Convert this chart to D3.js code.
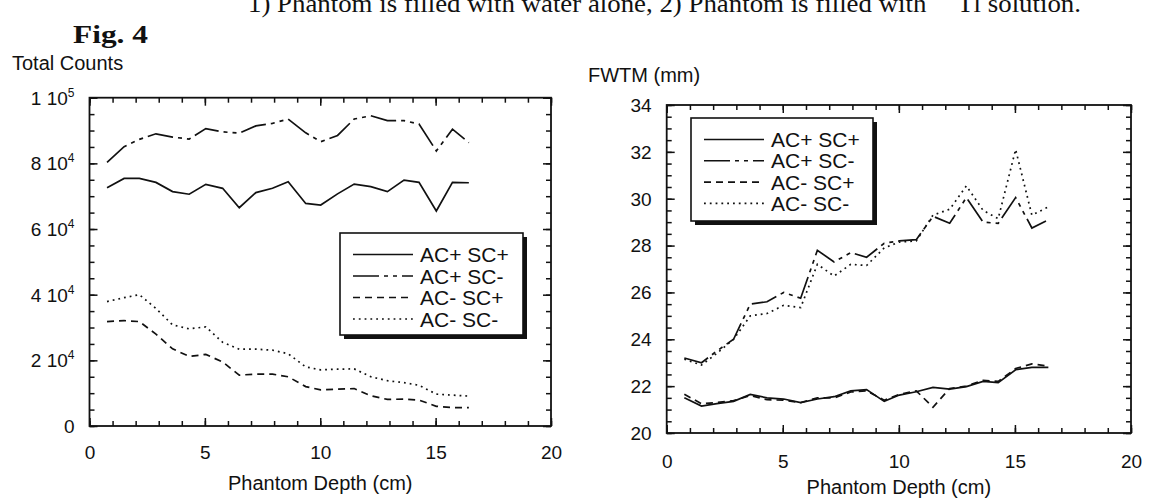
<!DOCTYPE html>
<html>
<head>
<meta charset="utf-8">
<script src="https://cdn.jsdelivr.net/npm/d3@7"></script>
<style>
  body { margin: 0; background: #fff; }
  svg { display: block; }
  text { font-family: "Liberation Sans", Arial, Helvetica, sans-serif; fill: #111; }
  .serif { font-family: "Liberation Serif", "Times New Roman", serif; }
</style>
</head>
<body>
<div id="chart-area"></div>
<script>
// depth of each slice (cm), shared by every series
const depth = [0.76, 1.5, 2.16, 2.88, 3.6, 4.32, 5.04, 5.77, 6.49, 7.21, 7.93, 8.61,
               9.37, 10.02, 10.75, 11.47, 12.19, 12.91, 13.63, 14.28, 15.03, 15.73, 16.44];

const seriesNames = ["AC+ SC+", "AC+ SC-", "AC- SC+", "AC- SC-"];

// total counts
const countsAcpScp = [72600, 75400, 75400, 74200, 71400, 70600, 73600, 72400, 66500, 71100, 72400, 74400,
                      67800, 67300, 70700, 73700, 72900, 71400, 74900, 74200, 65500, 74200, 74100];
const countsAcpScm = [80300, 85100, 87300, 89000, 88000, 87400, 90600, 89600, 89200, 91400, 92200, 93500,
                      89300, 86600, 88500, 93500, 94500, 93000, 93000, 92000, 83800, 90400, 86300];
const countsAcmScp = [31800, 32100, 31800, 28000, 23500, 21200, 21800, 19500, 15500, 15800, 15800, 15000,
                      12000, 11000, 11200, 11400, 9200, 8100, 8200, 7900, 6000, 5600, 5600];
const countsAcmScm = [37900, 39100, 40000, 35800, 30800, 29600, 30200, 25500, 23400, 23400, 23100, 22000,
                      18000, 17100, 17300, 17400, 15000, 13800, 13200, 12400, 9700, 9400, 9100];

// FWTM (mm)
const fwtmAcpScp = [21.5, 21.15, 21.25, 21.35, 21.65, 21.5, 21.45, 21.3, 21.45, 21.55, 21.8, 21.85,
                    21.35, 21.62, 21.76, 21.95, 21.87, 21.98, 22.2, 22.15, 22.7, 22.8, 22.8];
const fwtmAcpScm = [23.2, 23.0, 23.5, 24.0, 25.5, 25.6, 26.0, 25.75, 27.8, 27.3, 27.7, 27.5,
                    28.1, 28.2, 28.25, 29.25, 28.95, 30.05, 29.0, 28.95, 30.05, 28.75, 29.1];
const fwtmAcmScp = [21.65, 21.25, 21.3, 21.38, 21.6, 21.42, 21.4, 21.3, 21.5, 21.5, 21.75, 21.8,
                    21.4, 21.65, 21.8, 21.1, 21.9, 22.0, 22.25, 22.2, 22.75, 22.95, 22.85];
const fwtmAcmScm = [23.15, 22.9, 23.4, 24.0, 25.0, 25.1, 25.45, 25.35, 27.2, 26.7, 27.2, 27.15,
                    27.9, 28.15, 28.2, 29.3, 29.55, 30.55, 29.5, 29.15, 32.1, 29.3, 29.65];

// ticks
const depthTicks = [0, 5, 10, 15, 20];
const countsTicks = [0, 20000, 40000, 60000, 80000, 100000];
const countsTickLabels = ["0", "2 10^4", "4 10^4", "6 10^4", "8 10^4", "1 10^5"];
const fwtmTicks = [20, 22, 24, 26, 28, 30, 32, 34];
const fwtmTickLabels = ["20", "22", "24", "26", "28", "30", "32", "34"];

const dashes = [null, "26,5,4,5,4,5", "7,5", "1.8,4"];

const w = 1151;
const h = 499;

const svg = d3.select("#chart-area")
    .append("svg")
    .attr("width", w)
    .attr("height", h);

// heading (top line is cut off by the page edge in the scan)
svg.append("text")
    .attr("class", "serif")
    .attr("x", 248)
    .attr("y", 12)
    .attr("textLength", 833)
    .attr("lengthAdjust", "spacingAndGlyphs")
    .style("font-size", "25px")
    .html('1) Phantom is filled with water alone, 2) Phantom is filled with <tspan dy="-14" font-size="15">201</tspan><tspan dy="14">Tl solution.</tspan>');

svg.append("text")
    .attr("class", "serif")
    .attr("x", 73)
    .attr("y", 43)
    .attr("textLength", 75)
    .attr("lengthAdjust", "spacingAndGlyphs")
    .style("font-size", "25px")
    .style("font-weight", "bold")
    .text("Fig. 4");

const renderPanel = (cfg) => {
    const xScale = d3.scaleLinear().domain([0, 20]).range(cfg.xRange);
    const yScale = d3.scaleLinear().domain(cfg.yDomain).range(cfg.yRange);

    const left = cfg.xRange[0], right = cfg.xRange[1];
    const top = cfg.yRange[1], bottom = cfg.yRange[0];

    const g = svg.append("g");

    const minorX = d3.range(0, 21, 1);
    const minorY = d3.range(cfg.yDomain[0], cfg.yDomain[1] + cfg.yMinor / 2, cfg.yMinor);

    const axes = [
        ["translate(0," + bottom + ")", d3.axisBottom(xScale).tickValues(minorX).tickSize(-5).tickFormat("")],
        ["translate(0," + bottom + ")", d3.axisBottom(xScale).tickValues(depthTicks).tickSize(-8)
            .tickPadding(cfg.xPad).tickFormat(d3.format("d"))],
        ["translate(0," + top + ")", d3.axisTop(xScale).tickValues(minorX).tickSize(-5).tickFormat("")],
        ["translate(0," + top + ")", d3.axisTop(xScale).tickValues(depthTicks).tickSize(-8).tickFormat("")],
        ["translate(" + left + ",0)", d3.axisLeft(yScale).tickValues(minorY).tickSize(-5).tickFormat("")],
        ["translate(" + left + ",0)", d3.axisLeft(yScale).tickValues(cfg.yTicks).tickSize(-8).tickFormat("")],
        ["translate(" + right + ",0)", d3.axisRight(yScale).tickValues(minorY).tickSize(-5).tickFormat("")],
        ["translate(" + right + ",0)", d3.axisRight(yScale).tickValues(cfg.yTicks).tickSize(-8).tickFormat("")]
    ];

    axes.forEach(([tr, axis]) => {
        const a = g.append("g")
            .attr("transform", tr)
            .call(axis);
        a.select(".domain").remove();
        a.selectAll("line").attr("stroke", "#111").attr("stroke-width", 1.5);
        a.selectAll("text").style("font-size", "19px");
    });

    // y tick labels, with superscript exponents
    g.selectAll(".ylabel")
        .data(cfg.yTicks)
        .enter()
        .append("text")
        .attr("class", "ylabel")
        .attr("x", left - cfg.yPad)
        .attr("y", (d) => yScale(d))
        .attr("dy", "0.36em")
        .attr("text-anchor", "end")
        .style("font-size", "19px")
        .html((d, i) => {
            const parts = cfg.yLabels[i].split("^");
            if (parts.length === 1) return parts[0];
            return parts[0] + '<tspan dy="-8" font-size="12">' + parts[1] + '</tspan>';
        });

    // frame
    g.append("rect")
        .attr("x", left)
        .attr("y", top)
        .attr("width", right - left)
        .attr("height", bottom - top)
        .attr("fill", "none")
        .attr("stroke", "#111")
        .attr("stroke-width", 1.8);

    const line = d3.line()
        .x((d, i) => xScale(depth[i]))
        .y((d) => yScale(d));

    cfg.series.forEach((s, i) => {
        g.append("path")
            .datum(s)
            .attr("d", line)
            .attr("fill", "none")
            .attr("stroke", "#111")
            .attr("stroke-width", 1.7)
            .attr("stroke-dasharray", dashes[i]);
    });

    // axis titles
    g.append("text")
        .attr("x", cfg.yTitlePos[0])
        .attr("y", cfg.yTitlePos[1])
        .style("font-size", "20px")
        .text(cfg.yTitle);

    g.append("text")
        .attr("x", xScale(10))
        .attr("y", cfg.xTitleY)
        .attr("text-anchor", "middle")
        .style("font-size", "20px")
        .text("Phantom Depth (cm)");

    // legend
    const lg = cfg.legend;
    const legend = g.append("g")
        .attr("transform", "translate(" + lg.x + "," + lg.y + ")");

    legend.append("rect")
        .attr("x", 4)
        .attr("y", 4)
        .attr("width", lg.w)
        .attr("height", lg.h)
        .attr("fill", "#111");

    legend.append("rect")
        .attr("width", lg.w)
        .attr("height", lg.h)
        .attr("fill", "#fff")
        .attr("stroke", "#111")
        .attr("stroke-width", 1.6);

    seriesNames.forEach((name, i) => {
        const yy = lg.row0 + i * lg.step;
        legend.append("line")
            .attr("x1", 13)
            .attr("x2", 73)
            .attr("y1", yy)
            .attr("y2", yy)
            .attr("stroke", "#111")
            .attr("stroke-width", 1.6)
            .attr("stroke-dasharray", dashes[i]);
        legend.append("text")
            .attr("x", 80)
            .attr("y", yy)
            .attr("dy", "0.36em")
            .style("font-size", "21px")
            .text(name);
    });
};

renderPanel({
    xRange: [89.5, 551],
    yDomain: [0, 100000],
    yRange: [426, 97.7],
    yMinor: 5000,
    yTicks: countsTicks,
    yLabels: countsTickLabels,
    xPad: 20,
    yPad: 15,
    series: [countsAcpScp, countsAcpScm, countsAcmScp, countsAcmScm],
    yTitle: "Total Counts",
    yTitlePos: [12, 70],
    xTitleY: 490,
    legend: { x: 340, y: 233, w: 183, h: 102, row0: 21.5, step: 21.5 }
});

renderPanel({
    xRange: [666.7, 1131],
    yDomain: [20, 34],
    yRange: [433, 105],
    yMinor: 0.5,
    yTicks: fwtmTicks,
    yLabels: fwtmTickLabels,
    xPad: 22,
    yPad: 15,
    series: [fwtmAcpScp, fwtmAcpScm, fwtmAcmScp, fwtmAcmScm],
    yTitle: "FWTM (mm)",
    yTitlePos: [588, 82],
    xTitleY: 494,
    legend: { x: 691, y: 118, w: 182, h: 103, row0: 21.5, step: 21.3 }
});
</script>
</body>
</html>
